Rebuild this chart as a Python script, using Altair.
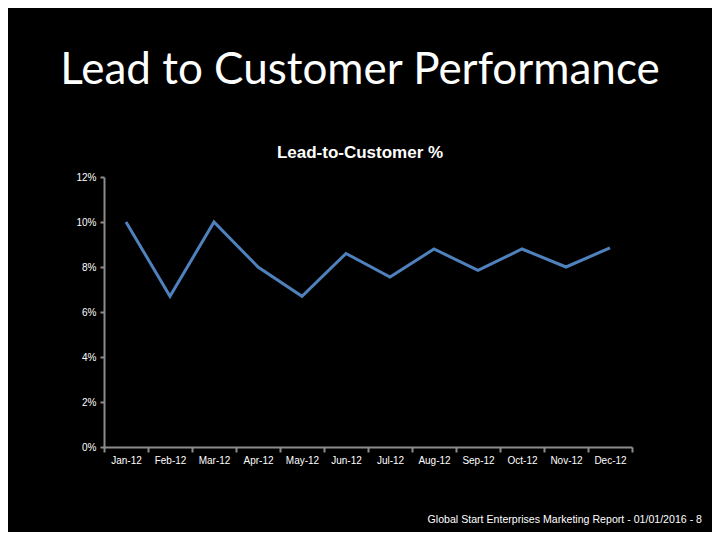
import altair as alt
import pandas as pd

months = ["Jan-12", "Feb-12", "Mar-12", "Apr-12", "May-12", "Jun-12",
          "Jul-12", "Aug-12", "Sep-12", "Oct-12", "Nov-12", "Dec-12"]
rates = [0.100, 0.067, 0.100, 0.080, 0.067, 0.086,
         0.0755, 0.088, 0.0785, 0.088, 0.080, 0.0885]
footer_text = ["Global Start Enterprises Marketing Report  - 01/01/2016 - 8"]

df = pd.DataFrame({"month": months, "rate": rates})
foot = pd.DataFrame({"t": footer_text})

axis_common = dict(
    domainColor="#8c8c8c", domainWidth=2, tickColor="#8c8c8c", tickWidth=2,
    labelColor="#ffffff", labelFont="Liberation Sans", labelFontSize=10,
    grid=False, title=None,
)

line = alt.Chart(df).mark_line(color="#4F81BD", strokeWidth=3).encode(
    x=alt.X("month:O", sort=months,
            scale=alt.Scale(paddingInner=0, paddingOuter=0),
            axis=alt.Axis(tickBand="extent", tickSize=5, labelAngle=0,
                          labelPadding=3, **axis_common)),
    y=alt.Y("rate:Q", scale=alt.Scale(domain=[0, 0.12]),
            axis=alt.Axis(format=".0%", values=[0, 0.02, 0.04, 0.06, 0.08, 0.10, 0.12],
                          tickSize=4, labelPadding=4, **axis_common)),
)

footer = alt.Chart(foot).mark_text(
    font="Liberation Sans", fontSize=10.6, color="#ffffff", align="right", baseline="middle"
).encode(text="t:N", x=alt.value(598), y=alt.value(343))

chart = alt.layer(line, footer).properties(
    width=528, height=270,
    background="#000000",
    padding={"left": 96, "top": 169, "right": 80, "bottom": 85},
    autosize=alt.AutoSizeParams(type="none"),
    title=alt.TitleParams(
        text="Lead to Customer Performance",
        subtitle="Lead-to-Customer %",
        font="Lato", fontSize=44, fontWeight="normal", color="#ffffff",
        subtitleFont="Liberation Sans", subtitleFontSize=17, subtitleFontWeight="bold",
        subtitleColor="#ffffff", subtitlePadding=52,
        anchor="middle", offset=11, dx=-8,
    ),
).configure_view(stroke=None)

chart.save("out.html", embed_options={"renderer": "svg", "actions": False})
